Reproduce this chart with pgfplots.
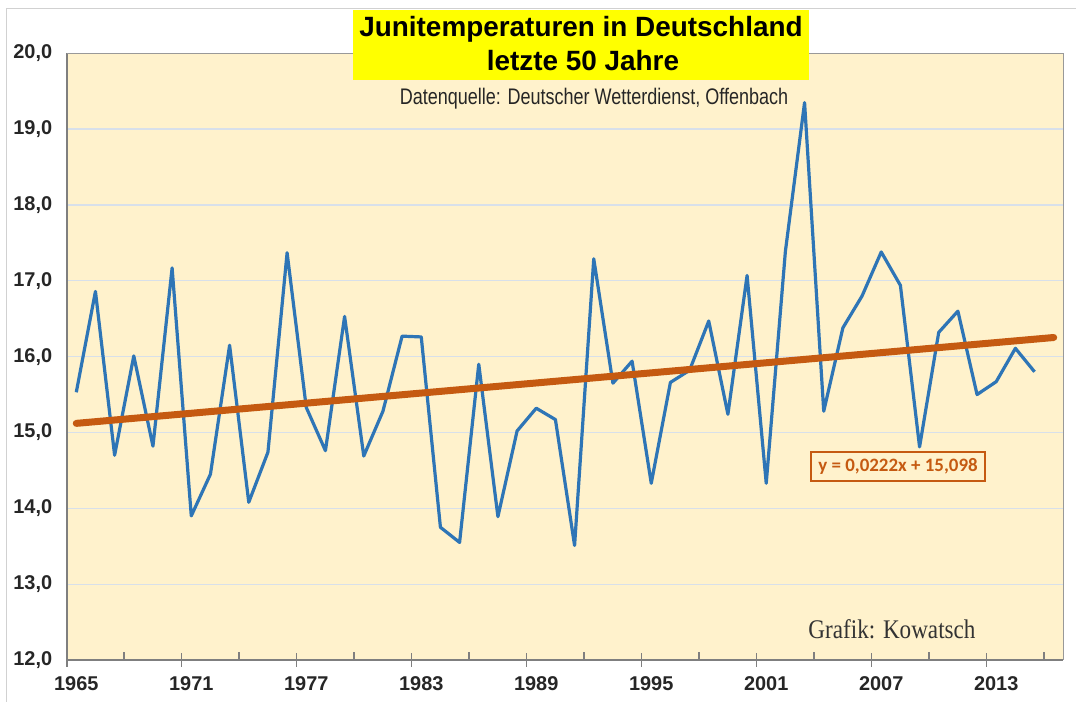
\documentclass[border=0pt]{standalone}
\usepackage{fontspec}
\setmainfont{Liberation Sans}
\newfontfamily\seriffont{Liberation Serif}
\newfontfamily\carlito{Carlito}
\usepackage{pgfplots}
\pgfplotsset{compat=1.18}
\definecolor{bg}{HTML}{FFF2CC}
\definecolor{lineblue}{HTML}{2E75B6}
\definecolor{trend}{HTML}{C55A11}
\definecolor{gridc}{RGB}{216,224,234}
\definecolor{axgray}{HTML}{7F7F7F}
\definecolor{titleyellow}{HTML}{FFFF00}
\begin{document}
\begin{tikzpicture}[x=1bp,y=1bp]
\useasboundingbox (0,0) rectangle (1076,702);
\fill[white] (0,0) rectangle (1076,702);
\draw[black!18, line width=1bp] (6,0) -- (6,693.4) -- (1076,693.4);
\begin{axis}[
  at={(66.7bp,42bp)}, anchor=south west,
  scale only axis, width=996.6bp, height=606.7bp,
  xmin=1964.5, xmax=2016.5, ymin=12, ymax=20,
  axis x line*=bottom, axis y line*=left,
  axis line style={axgray, line width=2bp},
  axis background/.style={fill=bg},
  /pgf/number format/assume math mode=true,
  ytick={12,13,...,20},
  ytick style={draw=none},
  ymajorgrids, major grid style={gridc, line width=1.3bp},
  yticklabel style={font=\bfseries\fontsize{20}{20}\selectfont, text=black!85,
    xshift=-11bp, /pgf/number format/.cd, fixed, fixed zerofill, precision=1, use comma},
  xtick={1965,1971,...,2013},
  major tick length=0bp,
  xticklabel style={font=\bfseries\fontsize{20}{20}\selectfont, text=black!85,
    yshift=-13bp, /pgf/number format/1000 sep={}},
  tick align=center,
  extra x ticks={1964.5,1970.5,...,2012.5},
  extra x tick labels={},
  extra x tick style={major tick length=14bp, tick style={axgray, line width=1.6bp}},
  minor xtick={1967.5,1973.5,...,2015.5},
  minor tick length=8bp,
  minor x tick style={axgray, line width=1.6bp, yshift=4bp},
  clip=false,
]
\addplot[lineblue, line width=3.2bp, line join=round] coordinates {
(1965,15.53) (1966,16.86) (1967,14.70) (1968,16.01) (1969,14.82)
(1970,17.17) (1971,13.90) (1972,14.45) (1973,16.15) (1974,14.08)
(1975,14.74) (1976,17.37) (1977,15.33) (1978,14.76) (1979,16.53)
(1980,14.69) (1981,15.28) (1982,16.27) (1983,16.26) (1984,13.75)
(1985,13.55) (1986,15.90) (1987,13.89) (1988,15.02) (1989,15.32)
(1990,15.17) (1991,13.51) (1992,17.29) (1993,15.65) (1994,15.94)
(1995,14.33) (1996,15.66) (1997,15.82) (1998,16.47) (1999,15.24)
(2000,17.07) (2001,14.33) (2002,17.39) (2003,19.35) (2004,15.28)
(2005,16.38) (2006,16.80) (2007,17.38) (2008,16.94) (2009,14.81)
(2010,16.32) (2011,16.60) (2012,15.50) (2013,15.67) (2014,16.11)
(2015,15.80)
};
\addplot[trend, line width=7bp, line cap=round] coordinates {(1965,15.1202) (2016,16.2524)};
\end{axis}
\draw[black!40, line width=1.5bp] (66.7,648.7) -- (1063.3,648.7) -- (1063.3,42);
\fill[titleyellow] (353,692.4) rectangle (809,622);
\node[anchor=base, inner sep=0, font=\bfseries\fontsize{28}{28}\selectfont] at (581,665) {Junitemperaturen in Deutschland};
\node[anchor=base, inner sep=0, font=\bfseries\fontsize{28}{28}\selectfont] at (583,631.5) {letzte 50 Jahre};
\node[anchor=base, inner sep=0, text=black!85] at (594,597.5) {\scalebox{0.8}[1]{\fontsize{22.6}{22.6}\selectfont Datenquelle: Deutscher Wetterdienst, Offenbach}};
\node[anchor=base, inner sep=0, text=black!80] at (892,63) {\scalebox{0.86}[1]{\seriffont\fontsize{27}{27}\selectfont Grafik: Kowatsch}};
\node[draw=trend, line width=2bp, minimum width=174bp, minimum height=29bp, inner sep=0, text=trend, font=\carlito\bfseries\fontsize{19}{19}\selectfont] at (898,235.8) {y = 0,0222x + 15,098};
\end{tikzpicture}
\end{document}
